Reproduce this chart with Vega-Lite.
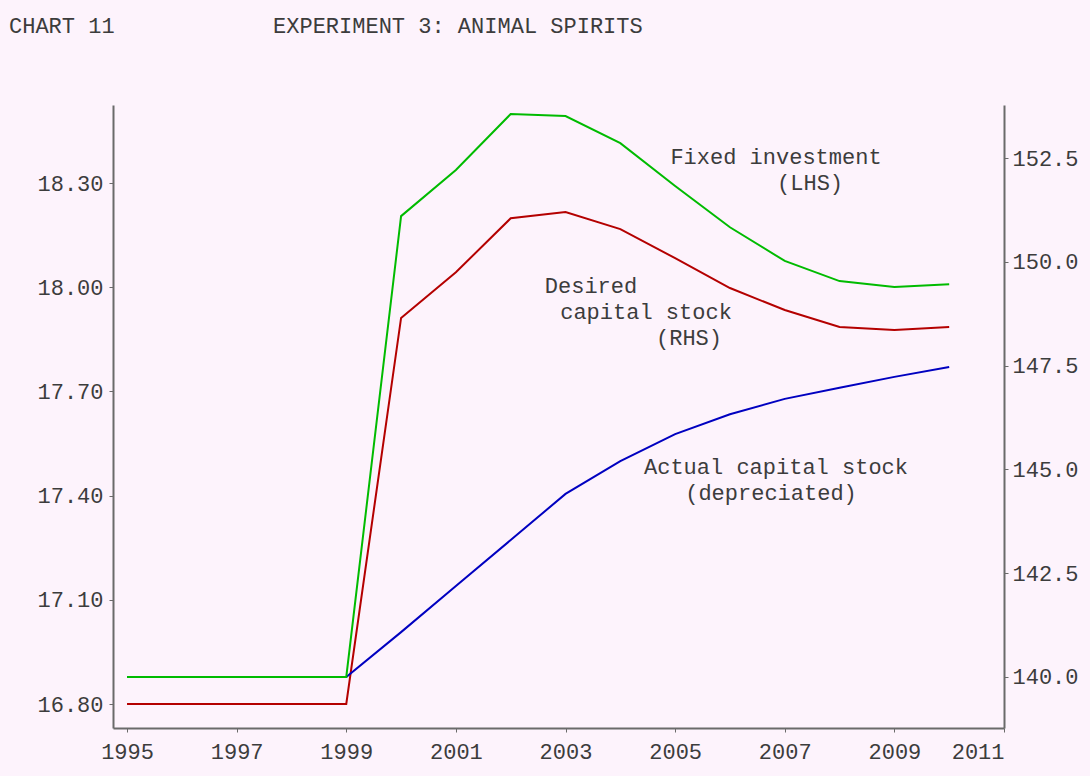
{
  "$schema": "https://vega.github.io/schema/vega-lite/v6.json",
  "width": 891,
  "height": 623,
  "autosize": "none",
  "padding": {"left": 113, "top": 105, "right": 86, "bottom": 48},
  "background": "#fdf3fc",
  "config": {
    "view": {"stroke": null},
    "font": "Liberation Mono",
    "axis": {
      "grid": false,
      "domainColor": "#6a6a6a",
      "domainWidth": 2,
      "tickColor": "#6a6a6a",
      "tickSize": 4,
      "labelFont": "Liberation Mono",
      "labelFontSize": 22,
      "labelColor": "#3c3c3c",
      "title": null
    }
  },
  "title": {
    "text": "CHART 11\u00a0\u00a0\u00a0\u00a0\u00a0\u00a0\u00a0\u00a0\u00a0\u00a0\u00a0\u00a0EXPERIMENT 3: ANIMAL SPIRITS",
    "anchor": "start",
    "frame": "group",
    "dx": -104,
    "offset": 50,
    "baseline": "alphabetic",
    "font": "Liberation Mono",
    "fontSize": 22,
    "fontWeight": "normal",
    "color": "#3c3c3c"
  },
  "datasets": {
    "fixed": [
      {"year": 1995, "value": 16.878},
      {"year": 1996, "value": 16.878},
      {"year": 1997, "value": 16.878},
      {"year": 1998, "value": 16.878},
      {"year": 1999, "value": 16.878},
      {"year": 2000, "value": 18.205},
      {"year": 2001, "value": 18.338},
      {"year": 2002, "value": 18.499},
      {"year": 2003, "value": 18.493},
      {"year": 2004, "value": 18.415},
      {"year": 2005, "value": 18.292},
      {"year": 2006, "value": 18.173},
      {"year": 2007, "value": 18.076},
      {"year": 2008, "value": 18.018},
      {"year": 2009, "value": 18.001},
      {"year": 2010, "value": 18.009}
    ],
    "desired": [
      {"year": 1995, "value": 139.35},
      {"year": 1996, "value": 139.35},
      {"year": 1997, "value": 139.35},
      {"year": 1998, "value": 139.35},
      {"year": 1999, "value": 139.35},
      {"year": 2000, "value": 148.65},
      {"year": 2001, "value": 149.75},
      {"year": 2002, "value": 151.05},
      {"year": 2003, "value": 151.2},
      {"year": 2004, "value": 150.79},
      {"year": 2005, "value": 150.09},
      {"year": 2006, "value": 149.37},
      {"year": 2007, "value": 148.84},
      {"year": 2008, "value": 148.43},
      {"year": 2009, "value": 148.36},
      {"year": 2010, "value": 148.43}
    ],
    "actual": [
      {"year": 1995, "value": 140.0},
      {"year": 1996, "value": 140.0},
      {"year": 1997, "value": 140.0},
      {"year": 1998, "value": 140.0},
      {"year": 1999, "value": 140.0},
      {"year": 2000, "value": 141.08},
      {"year": 2001, "value": 142.19},
      {"year": 2002, "value": 143.3},
      {"year": 2003, "value": 144.41},
      {"year": 2004, "value": 145.2},
      {"year": 2005, "value": 145.85},
      {"year": 2006, "value": 146.33},
      {"year": 2007, "value": 146.7},
      {"year": 2008, "value": 146.97},
      {"year": 2009, "value": 147.23},
      {"year": 2010, "value": 147.47}
    ],
    "labels": [
      {"year": 2006.84, "value": 18.375, "text": "Fixed investment"},
      {"year": 2007.461, "value": 18.3, "text": "(LHS)"},
      {"year": 2003.465, "value": 18.004, "text": "Desired"},
      {"year": 2004.469, "value": 17.929, "text": "capital stock"},
      {"year": 2005.253, "value": 17.854, "text": "(RHS)"},
      {"year": 2006.84, "value": 17.482, "text": "Actual capital stock"},
      {"year": 2006.749, "value": 17.408, "text": "(depreciated)"}
    ]
  },
  "layer": [
    {
      "layer": [
        {
          "data": {"name": "desired"},
          "mark": {"type": "line", "color": "#b40000", "strokeWidth": 2},
          "encoding": {
            "x": {"field": "year", "type": "quantitative", "scale": {"domain": [1994.744, 2011], "nice": false, "zero": false}},
            "y": {"field": "value", "type": "quantitative", "scale": {"domain": [138.77, 153.78], "nice": false, "zero": false},
              "axis": {"orient": "right", "values": [140, 142.5, 145, 147.5, 150, 152.5], "format": ".1f", "labelPadding": 4}}
          }
        },
        {
          "data": {"name": "actual"},
          "mark": {"type": "line", "color": "#0000c0", "strokeWidth": 2},
          "encoding": {
            "x": {"field": "year", "type": "quantitative"},
            "y": {"field": "value", "type": "quantitative"}
          }
        }
      ]
    },
    {
      "layer": [
        {
          "data": {"name": "fixed"},
          "mark": {"type": "line", "color": "#00bb00", "strokeWidth": 2},
          "encoding": {
            "x": {"field": "year", "type": "quantitative", "scale": {"domain": [1994.744, 2011], "nice": false, "zero": false},
              "axis": {"orient": "bottom", "values": [1995, 1997, 1999, 2001, 2003, 2005, 2007, 2009, 2011], "format": "d", "labelPadding": 9}},
            "y": {"field": "value", "type": "quantitative", "scale": {"domain": [16.731, 18.525], "nice": false, "zero": false},
              "axis": {"orient": "left", "values": [16.8, 17.1, 17.4, 17.7, 18.0, 18.3], "format": ".2f", "labelPadding": 6}}
          }
        },
        {
          "data": {"name": "labels"},
          "mark": {"type": "text", "align": "center", "baseline": "middle", "font": "Liberation Mono", "fontSize": 22, "color": "#3c3c3c"},
          "encoding": {
            "x": {"field": "year", "type": "quantitative"},
            "y": {"field": "value", "type": "quantitative"},
            "text": {"field": "text"}
          }
        }
      ]
    }
  ],
  "resolve": {"scale": {"y": "independent"}, "axis": {"y": "independent"}}
}
